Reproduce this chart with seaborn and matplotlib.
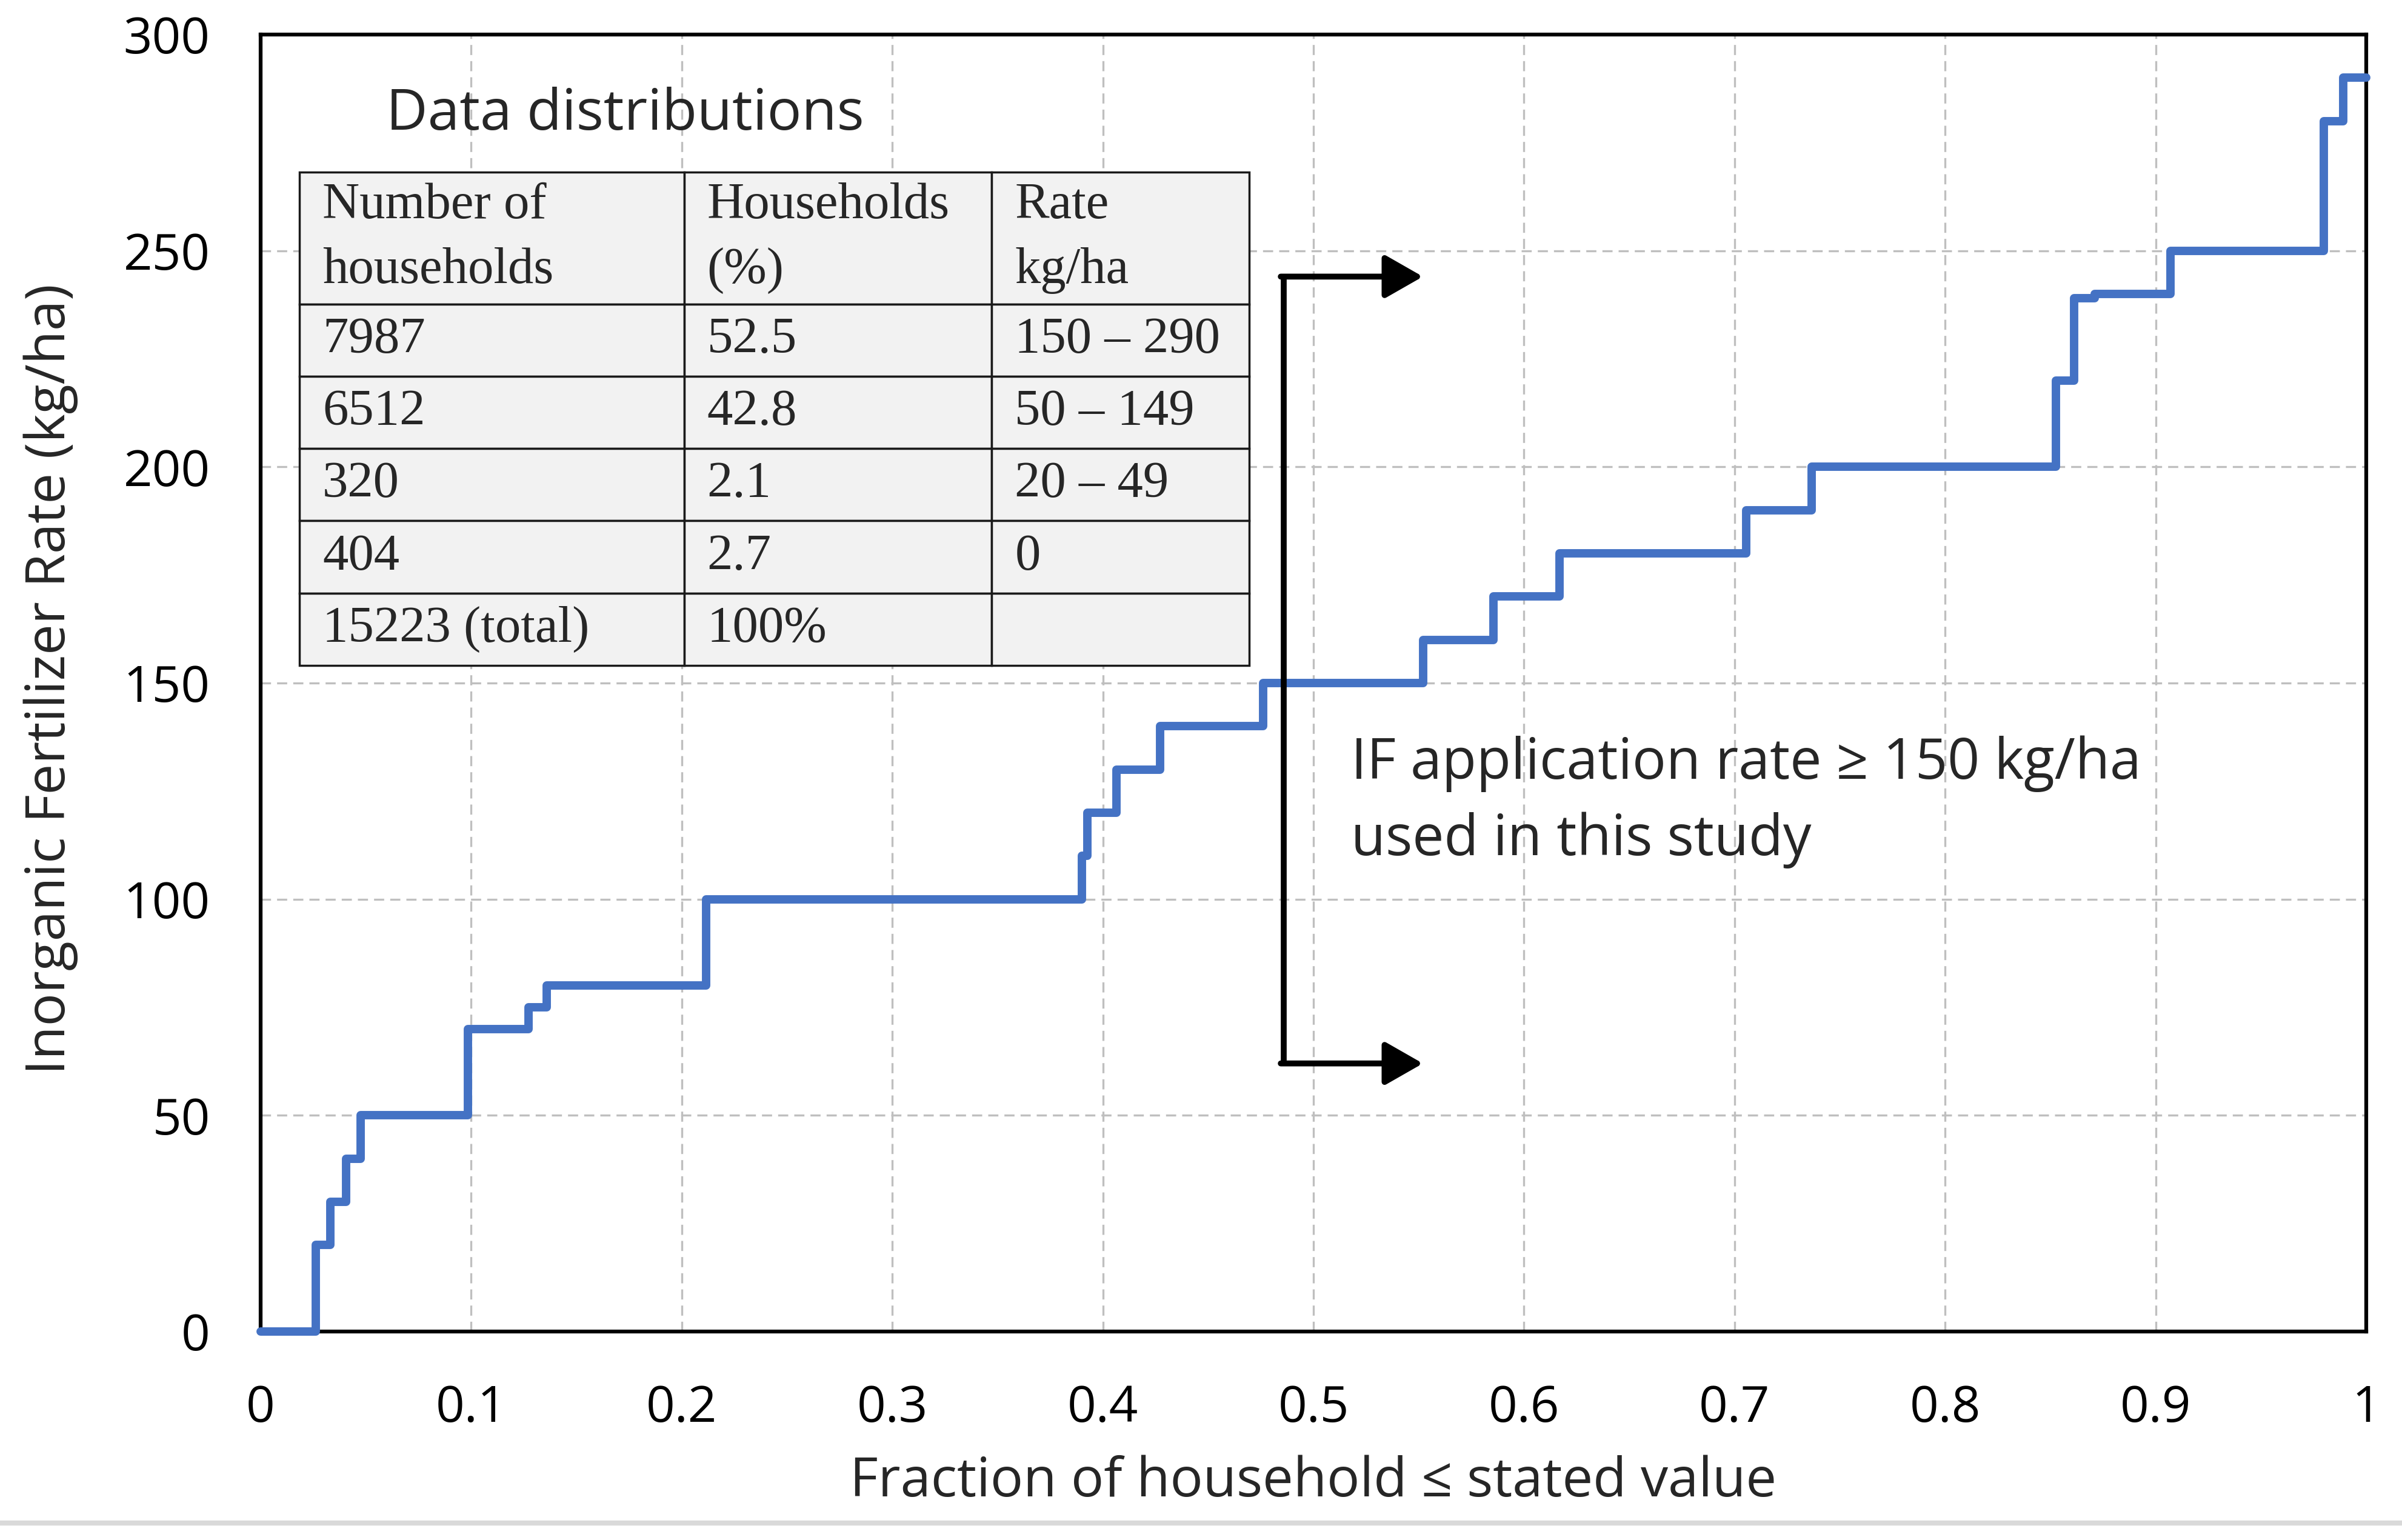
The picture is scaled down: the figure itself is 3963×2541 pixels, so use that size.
import numpy as np
import pandas as pd
import seaborn as sns
import matplotlib.pyplot as plt
from matplotlib.lines import Line2D

# dados (curva acumulada em degraus)
fracao = [0, 0.0262, 0.0331, 0.0406, 0.0474, 0.0984, 0.1272, 0.1359, 0.2116,
          0.390, 0.3926, 0.4065, 0.4272, 0.4761, 0.552, 0.5855, 0.617, 0.7055,
          0.7366, 0.8526, 0.8613, 0.871, 0.907, 0.980, 0.989, 1.0]
taxa = [0, 20, 30, 40, 50, 70, 75, 80, 100, 110, 120, 130, 140, 150, 160, 170,
        180, 190, 200, 220, 239, 240, 250, 280, 290, 290]

x_ticks = [0, 0.1, 0.2, 0.3, 0.4, 0.5, 0.6, 0.7, 0.8, 0.9, 1.0]
x_tick_labels = ['0', '0.1', '0.2', '0.3', '0.4', '0.5', '0.6', '0.7', '0.8', '0.9', '1']
y_ticks = [0, 50, 100, 150, 200, 250, 300]

# tabela
col_labels = ['Number of\nhouseholds', 'Households\n(%)', 'Rate\nkg/ha']
n_households = ['7987', '6512', '320', '404', '15223 (total)']
pct_households = ['52.5', '42.8', '2.1', '2.7', '100%']
rate_range = ['150 \u2013 290', '50 \u2013 149', '20 \u2013 49', '0', '']

df = pd.DataFrame({'fracao': fracao, 'taxa': taxa})

sns.set_style('white')
plt.rcParams['font.family'] = ['Open Sans', 'DejaVu Sans']

fig = plt.figure(figsize=(39.63, 25.41), dpi=100)
ax = fig.add_axes([0.1085, 0.1354, 0.8766, 0.8422])

sns.lineplot(data=df, x='fracao', y='taxa', ax=ax, color='#4472C4', linewidth=10,
             drawstyle='steps-post', sort=False, estimator=None, zorder=3, clip_on=False)

ax.set_xlim(0, 1)
ax.set_ylim(0, 300)
ax.set_xticks(x_ticks)
ax.set_xticklabels(x_tick_labels)
ax.set_yticks(y_ticks)
ax.tick_params(axis='both', length=0, labelsize=60, colors='black')
ax.tick_params(axis='y', pad=60)
ax.tick_params(axis='x', pad=62)

ax.set_axisbelow(True)
ax.grid(True, color='#bfbfbf', linestyle=(0, (5, 3)), linewidth=2.4)
for s in ax.spines.values():
    s.set_visible(True)
    s.set_color('black')
    s.set_linewidth(4.5)

ax.set_xlabel('Fraction of household \u2264 stated value', fontsize=65, va='center')
ax.xaxis.set_label_coords(0.5, -0.1164)
ax.set_ylabel('Inorganic Fertilizer Rate (kg/ha)', fontsize=65, va='center', ha='center')
ax.yaxis.set_label_coords(-0.0996, 0.503)

# titulo da tabela
ax.text(0.173, 0.938, 'Data distributions', transform=ax.transAxes, fontsize=68,
        ha='center', va='center')

# tabela de distribuicao
cell_text = [list(r) for r in zip(n_households, pct_households, rate_range)]
tabela = ax.table(cellText=cell_text, colLabels=col_labels, cellLoc='left',
                  colLoc='left', bbox=[0.0184, 0.5136, 0.4511, 0.3804], zorder=4)
tabela.auto_set_font_size(False)
tabela.set_fontsize(61)
col_w = [0.405, 0.324, 0.271]
for (r, c), cell in tabela.get_celld().items():
    cell.set_facecolor('#f2f2f2')
    cell.set_edgecolor('#1a1a1a')
    cell.set_linewidth(2.5)
    cell.set_width(col_w[c])
    cell.set_height(0.268 if r == 0 else 0.1464)
    cell.PAD = 0.06 / col_w[c] * col_w[0]
    cell.get_text().set_fontfamily('Liberation Serif')
    cell.get_text().set_linespacing(1.5)

# colchete com setas
bx, by0, by1, bx_end = 0.486, 62, 244, 0.552
ax.plot([bx, bx], [by0, by1], color='black', linewidth=7, solid_capstyle='butt', zorder=5)
for yy in (by0, by1):
    ax.annotate('', xy=(bx_end, yy), xytext=(bx - 0.0015, yy),
                arrowprops=dict(arrowstyle='-|>,head_length=0.35,head_width=0.2',
                                color='black', lw=7, mutation_scale=110,
                                shrinkA=0, shrinkB=0), zorder=5)

ax.text(0.518, 122.5, 'IF application rate \u2265 150 kg/ha\nused in this study',
        fontsize=67, ha='left', va='center', linespacing=1.45)

# linha cinza no rodape
fig.add_artist(Line2D([0, 1], [1 - 2513 / 2541] * 2, transform=fig.transFigure,
                      color='#d9d9d9', linewidth=6))

plt.savefig('out.png', dpi=100)
